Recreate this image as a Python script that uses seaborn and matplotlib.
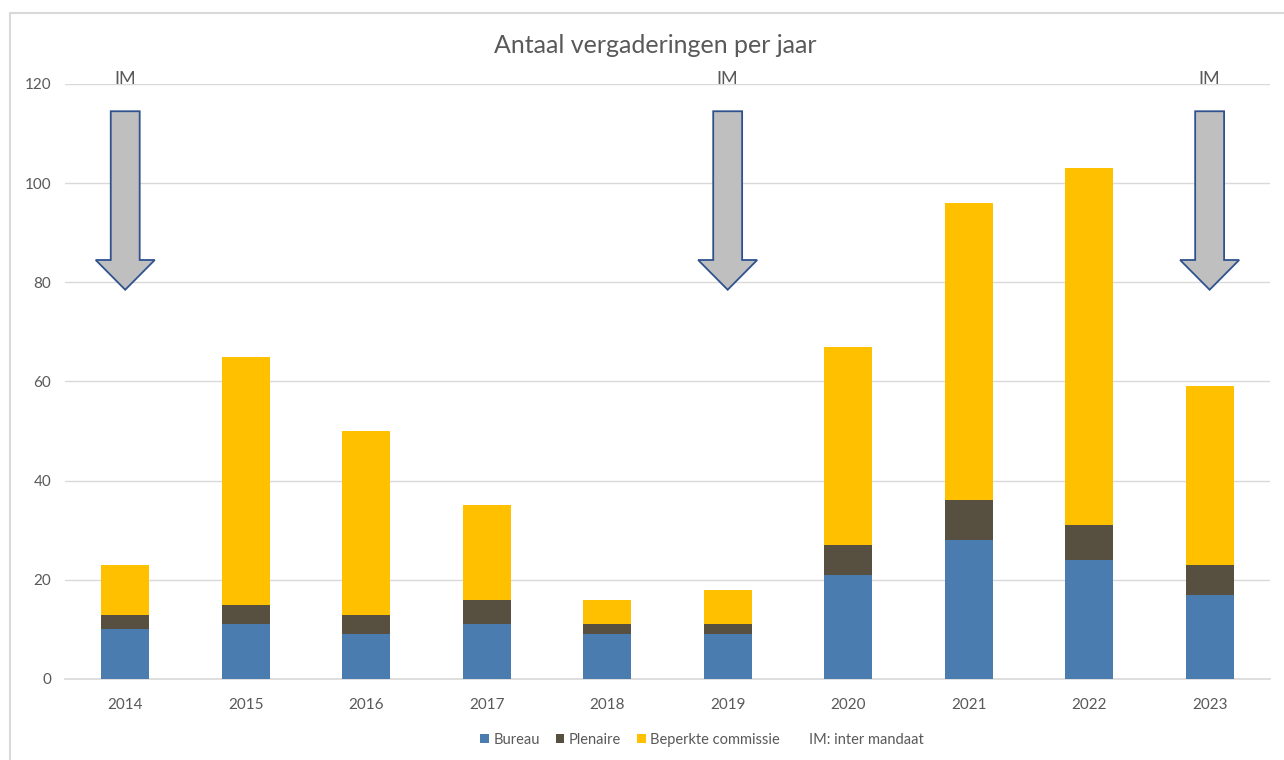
import pandas as pd
import numpy as np
import matplotlib
matplotlib.use("Agg")
import matplotlib.pyplot as plt
from matplotlib.patches import Polygon, Rectangle
import seaborn as sns

# Data
years = ["2014", "2015", "2016", "2017", "2018", "2019", "2020", "2021", "2022", "2023"]
bureau = [10, 11, 9, 11, 9, 9, 21, 28, 24, 17]
plenaire = [3, 4, 4, 5, 2, 2, 6, 8, 7, 6]
beperkte = [10, 50, 37, 19, 5, 7, 40, 60, 72, 36]
im_years = ["2014", "2019", "2023"]  # inter mandaat

df = pd.DataFrame({"jaar": years, "Bureau": bureau, "Plenaire": plenaire,
                   "Beperkte commissie": beperkte})
df["cum_plen"] = df["Bureau"] + df["Plenaire"]
df["cum_tot"] = df["cum_plen"] + df["Beperkte commissie"]

c_bureau = "#4a7cb0"
c_plen = "#575040"
c_bep = "#ffc000"
grey_txt = "#595959"

sns.set_theme(style="white")
plt.rcParams["font.family"] = ["Lato", "DejaVu Sans"]

fig = plt.figure(figsize=(12.84, 7.6), dpi=100)
ax = fig.add_axes([0.0506, 0.1066, 0.9384, 0.7829])

# stacked bars: draw cumulative heights from back to front
sns.barplot(data=df, x="jaar", y="cum_tot", color=c_bep, width=0.4, ax=ax,
            saturation=1, label="Beperkte commissie", zorder=3, linewidth=0)
sns.barplot(data=df, x="jaar", y="cum_plen", color=c_plen, width=0.4, ax=ax,
            saturation=1, label="Plenaire", zorder=3, linewidth=0)
sns.barplot(data=df, x="jaar", y="Bureau", color=c_bureau, width=0.4, ax=ax,
            saturation=1, label="Bureau", zorder=3, linewidth=0)

ax.set_xlim(-0.5, len(years) - 0.5)
ax.set_ylim(0, 120)
ax.set_yticks(np.arange(0, 121, 20))
ax.set_xlabel("")
ax.set_ylabel("")
ax.grid(axis="y", color="#d9d9d9", lw=1, zorder=0)
ax.set_axisbelow(True)
for s in ["top", "right", "left"]:
    ax.spines[s].set_visible(False)
ax.spines["bottom"].set_color("#d9d9d9")
ax.spines["bottom"].set_linewidth(1.2)
ax.tick_params(axis="both", length=0, labelsize=11, labelcolor=grey_txt)
ax.tick_params(axis="x", pad=14)
ax.tick_params(axis="y", pad=10)

# IM arrows
for y in im_years:
    x = years.index(y)
    pts = [(x - 0.12, 114.5), (x + 0.12, 114.5), (x + 0.12, 84.5), (x + 0.245, 84.5),
           (x, 78.5), (x - 0.245, 84.5), (x - 0.12, 84.5)]
    ax.add_patch(Polygon(pts, closed=True, facecolor="#bfbfbf", edgecolor="#2f528f",
                         lw=1.3, zorder=5))
    ax.text(x, 121, "IM", ha="center", va="center", fontsize=13, color=grey_txt,
            clip_on=False)

fig.text(0.51, 0.94, "Antaal vergaderingen per jaar", ha="center", va="center",
         fontsize=18, color=grey_txt)

handles, labels = ax.get_legend_handles_labels()
order = [labels.index(n) for n in ["Bureau", "Plenaire", "Beperkte commissie"]]
leg = ax.legend([handles[i] for i in order], [labels[i] for i in order],
                loc="center", bbox_to_anchor=(630 / 1284, 0.0265),
                bbox_transform=fig.transFigure, ncol=3, frameon=False, fontsize=10.5,
                handlelength=0.6, handleheight=0.6, handletextpad=0.3,
                columnspacing=1.1, labelcolor=grey_txt)
fig.text(809 / 1284, 0.0265, "IM: inter mandaat", ha="left", va="center", fontsize=10.5,
         color=grey_txt)

# chart frame
fig.patches.append(Rectangle((10 / 1284, -0.1), 1.2, 1.1 - 13 / 760,
                             transform=fig.transFigure, fill=False,
                             edgecolor="#d9d9d9", lw=1.5))

fig.savefig("out.png", dpi=100)
